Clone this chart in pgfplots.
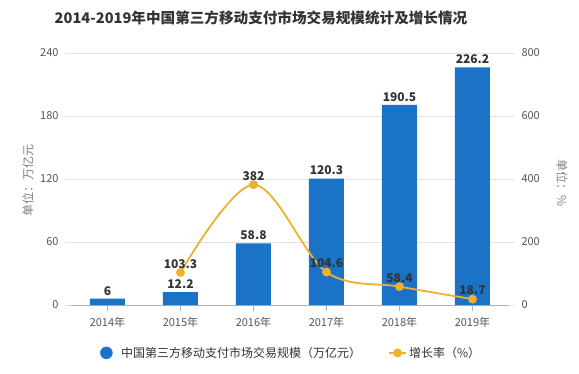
\documentclass[border=0pt]{standalone}
\usepackage{pgfplots}
\pgfplotsset{compat=1.18}
\usepackage{fontspec}
\setmainfont{Noto Sans CJK SC}
\definecolor{barblue}{HTML}{1A73C6}
\definecolor{lineorange}{HTML}{EEB12F}
\definecolor{gridgray}{HTML}{E3E3E3}
\definecolor{ticktext}{HTML}{555555}
\definecolor{labeltext}{HTML}{333333}
\begin{document}
\begin{tikzpicture}[x=1pt,y=1pt]
\path[use as bounding box] (-71,-68) rectangle (508,305);
\begin{axis}[
 scale only axis, width=438pt, height=252pt,
 xmin=-0.5, xmax=5.5, ymin=0, ymax=240,
 ytick={0,60,...,240}, xtick={0,...,5},
 xticklabels={2014年,2015年,2016年,2017年,2018年,2019年},
 axis x line*=bottom, axis y line*=left,
 y axis line style={draw=none},
 x axis line style={draw=gray!60, -},
 ymajorgrids, grid style={gridgray, line width=0.8pt},
 tick align=outside, major tick length=6pt,
 ytick style={gridgray, line width=0.8pt},
 xtick style={gray!60},
 ticklabel style={font=\fontsize{11}{13}\selectfont, text=ticktext},
 xticklabel shift=3pt, yticklabel shift=3pt,
 /pgf/number format/assume math mode=true,
 ybar, bar width=35pt,
 nodes near coords,
 nodes near coords style={font=\fontsize{12}{14}\selectfont\bfseries, text=labeltext},
]
\addplot[fill=barblue, draw=none] coordinates {(0,6)(1,12.2)(2,58.8)(3,120.3)(4,190.5)(5,226.2)};
\end{axis}
\begin{axis}[
 scale only axis, width=438pt, height=252pt,
 xmin=-0.5, xmax=5.5, ymin=0, ymax=800,
 ytick={0,200,...,800},
 axis x line=none, axis y line*=right,
 y axis line style={draw=none},
 tick align=outside, major tick length=6pt,
 ytick style={gridgray, line width=0.8pt},
 ticklabel style={font=\fontsize{11}{13}\selectfont, text=ticktext},
 yticklabel shift=3pt,
 /pgf/number format/assume math mode=true,
 legend columns=2,
 legend style={draw=none, fill=none, at={(0.5,-0.19)}, anchor=center,
   font=\fontsize{12}{14}\selectfont, text=labeltext,
   /tikz/every even column/.append style={column sep=25pt}},
]
\addlegendimage{legend image code/.code={\path[draw=none,fill=none] (0,0) -- (0.75cm,0); \fill[barblue] (0.3cm,0) circle (6pt);}}
\addlegendentry{中国第三方移动支付市场交易规模（万亿元）}
\addplot[lineorange, line width=1.8pt, smooth, tension=0.55, mark=*, mark size=3.5pt,
  mark options={fill=lineorange, draw=lineorange},
  nodes near coords,
  nodes near coords style={font=\fontsize{12}{14}\selectfont\bfseries, text=labeltext}]
  coordinates {(1,103.3)(2,382)(3,104.6)(4,58.4)(5,18.7)};
\addlegendentry{增长率（\%）}
\end{axis}
\node[font=\fontsize{14.6}{17}\selectfont\bfseries, text=labeltext] at (190,287) {2014-2019年中国第三方移动支付市场交易规模统计及增长情况};
\node[rotate=90, font=\fontsize{12}{14}\selectfont, text=gray] at (-43,125) {单位：万亿元};
\node[rotate=-90, font=\fontsize{12}{14}\selectfont, text=gray] at (491,122) {单位：\%};
\end{tikzpicture}
\end{document}
